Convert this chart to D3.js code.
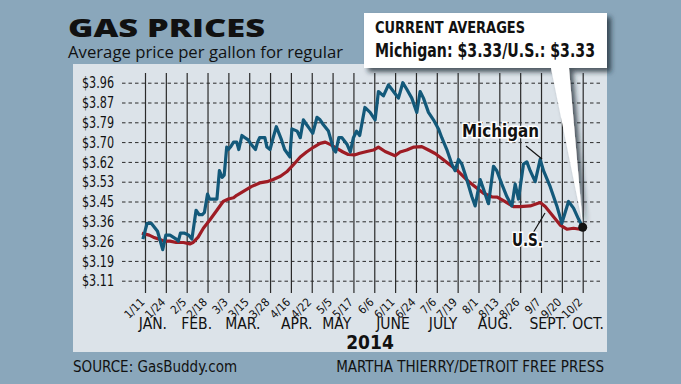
<!DOCTYPE html>
<html>
<head>
<meta charset="utf-8">
<script src="https://d3js.org/d3.v7.min.js"></script>
<style>
body { margin: 0; background: #8aa7bb; }
svg text { font-family: "DejaVu Sans Condensed", "Open Sans", sans-serif; fill: #111; }
</style>
</head>
<body>
<script>
var W = 681, H = 384;

// y gridline labels (evenly spaced in the original)
var yTicks = [3.11, 3.19, 3.26, 3.36, 3.45, 3.53, 3.62, 3.70, 3.79, 3.87, 3.96];
// x ticks, evenly spaced
var dateLabels = ["1/11","1/24","2/5","2/18","3/3","3/15","3/28","4/16","4/22","5/5","5/17",
                  "6/6","6/11","6/24","7/6","7/19","8/1","8/13","8/26","9/7","9/20","10/2"];
var months = ["JAN.","FEB.","MAR.","APR.","MAY","JUNE","JULY","AUG.","SEPT.","OCT."];
var monthPos = [0.38, 2.48, 4.69, 7.28, 9.2, 11.9, 14.3, 16.8, 19.34, 21.26];

// [position in tick units, price]
var michigan = [[-0.1,3.27],[0.1,3.35],[0.3,3.35],[0.6,3.31],[0.85,3.23],[1.0,3.29],[1.2,3.29],[1.5,3.27],
  [1.6,3.26],[1.7,3.30],[1.9,3.30],[2.1,3.29],[2.25,3.27],[2.45,3.41],[2.6,3.39],[2.75,3.39],[2.85,3.40],
  [3.0,3.48],[3.1,3.46],[3.3,3.46],[3.45,3.46],[3.57,3.58],[3.7,3.55],[3.8,3.56],[3.92,3.68],[4.0,3.67],
  [4.1,3.68],[4.25,3.70],[4.4,3.70],[4.5,3.67],[4.65,3.73],[4.8,3.72],[4.95,3.71],[5.1,3.69],[5.3,3.67],
  [5.4,3.70],[5.5,3.72],[5.75,3.72],[5.85,3.68],[6.0,3.67],[6.15,3.72],[6.3,3.77],[6.55,3.71],[6.7,3.67],
  [6.95,3.64],[7.05,3.76],[7.3,3.75],[7.45,3.72],[7.6,3.80],[7.75,3.78],[7.9,3.76],[8.05,3.74],[8.25,3.81],
  [8.4,3.80],[8.55,3.78],[8.8,3.75],[9.05,3.67],[9.15,3.66],[9.3,3.72],[9.45,3.72],[9.7,3.69],[9.85,3.66],
  [10.0,3.72],[10.15,3.75],[10.3,3.73],[10.55,3.85],[10.8,3.83],[11.04,3.80],[11.2,3.92],[11.44,3.90],
  [11.68,3.95],[11.92,3.92],[12.16,3.89],[12.37,3.96],[12.56,3.93],[12.8,3.89],[13.04,3.83],[13.2,3.92],
  [13.36,3.89],[13.6,3.83],[13.84,3.80],[14.08,3.76],[14.24,3.72],[14.48,3.67],[14.72,3.61],[14.88,3.58],
  [15.04,3.63],[15.2,3.61],[15.44,3.54],[15.68,3.47],[15.84,3.43],[16.08,3.54],[16.24,3.50],[16.48,3.44],
  [16.72,3.60],[16.88,3.58],[17.12,3.52],[17.36,3.47],[17.6,3.43],[17.76,3.52],[17.92,3.46],[18.16,3.61],
  [18.32,3.62],[18.48,3.58],[18.72,3.53],[18.96,3.63],[19.12,3.58],[19.44,3.51],[19.76,3.43],[20.0,3.35],
  [20.32,3.45],[20.56,3.42],[20.8,3.37],[21.0,3.33]];

var us = [[-0.15,3.30],[0.2,3.29],[0.4,3.28],[0.65,3.27],[0.9,3.26],[1.2,3.26],[1.5,3.255],[1.85,3.255],
  [2.15,3.25],[2.3,3.255],[2.55,3.28],[2.8,3.325],[3.1,3.365],[3.45,3.41],[3.75,3.45],[4.0,3.46],[4.25,3.465],
  [4.4,3.475],[4.7,3.49],[5.1,3.51],[5.5,3.525],[5.85,3.53],[6.15,3.54],[6.5,3.555],[6.8,3.575],[7.1,3.605],
  [7.45,3.64],[7.75,3.66],[8.1,3.68],[8.4,3.695],[8.65,3.70],[8.9,3.69],[9.2,3.675],[9.5,3.66],[9.75,3.65],
  [10.05,3.648],[10.3,3.655],[10.64,3.662],[10.96,3.668],[11.2,3.68],[11.52,3.662],[12.0,3.645],[12.24,3.66],
  [12.56,3.668],[12.9,3.68],[13.28,3.682],[13.6,3.668],[13.92,3.654],[14.24,3.634],[14.64,3.606],[15.04,3.576],
  [15.44,3.538],[15.84,3.51],[16.24,3.483],[16.64,3.469],[16.9,3.468],[17.28,3.449],[17.68,3.427],[18.0,3.427],
  [18.48,3.43],[18.96,3.445],[19.2,3.427],[19.6,3.381],[19.92,3.341],[20.24,3.32],[20.56,3.325],[20.88,3.32],
  [21.0,3.333]];

var svg = d3.select("body").append("svg")
    .attr("width", W)
    .attr("height", H);

var defs = svg.append("defs");
defs.append("filter").attr("id", "shadow")
    .attr("x", "-10%").attr("y", "-20%").attr("width", "130%").attr("height", "160%")
  .append("feDropShadow")
    .attr("dx", 4).attr("dy", 4).attr("stdDeviation", 2.5)
    .attr("flood-color", "#1f2a33").attr("flood-opacity", 0.75);

svg.append("rect").attr("width", W).attr("height", H).attr("fill", "#8aa7bb");

// light panel
svg.append("rect")
    .attr("x", 73).attr("y", 64)
    .attr("width", 534).attr("height", 288)
    .attr("fill", "#dce3e9");

var x = d3.scaleLinear().domain([0, 21]).range([145, 582.7]);
var y = d3.scaleLinear()
    .domain(yTicks)
    .range(yTicks.map(function(d, i) { return 280.7 - i * 19.8; }));

// squeeze a text to a given width (the original uses a condensed face)
function squeeze(sel, w) {
  sel.attr("textLength", w).attr("lengthAdjust", "spacingAndGlyphs");
}

// horizontal dashed gridlines + labels
var yAxis = svg.append("g")
    .attr("transform", "translate(122,0)")
    .call(d3.axisLeft(y).tickValues(yTicks).tickSize(-478).tickPadding(8)
      .tickFormat(function(d) { return "$" + d.toFixed(2); }));
yAxis.select(".domain").remove();
yAxis.selectAll("line")
    .attr("stroke", "#2a2a2a")
    .attr("stroke-width", 1)
    .attr("stroke-dasharray", "3.5,3");
yAxis.selectAll("text")
    .attr("font-size", 16)
    .style("font-family", null)
    .call(squeeze, 32);

// vertical lines + date labels
var xAxis = svg.append("g")
    .attr("transform", "translate(0,293)")
    .call(d3.axisBottom(x).tickValues(d3.range(dateLabels.length)).tickSize(-220)
      .tickFormat(function(d) { return dateLabels[d]; }));
xAxis.select(".domain").remove();
xAxis.selectAll("line")
    .attr("stroke", "#2a2a2a")
    .attr("stroke-width", 1.2);
xAxis.selectAll("text")
    .attr("font-size", 11.5)
    .attr("text-anchor", "end")
    .attr("y", 0)
    .attr("dy", "0.35em")
    .attr("transform", "translate(-3,7) rotate(-45)");

// month names
svg.selectAll(".month")
    .data(months)
    .enter().append("text")
      .attr("class", "month")
      .attr("x", function(d, i) { return x(monthPos[i]); })
      .attr("y", 329)
      .attr("text-anchor", "middle")
      .attr("font-size", 15.5)
      .text(function(d) { return d; });

svg.append("text")
    .attr("x", 370).attr("y", 349)
    .attr("text-anchor", "middle")
    .attr("font-size", 19)
    .attr("font-weight", "bold")
    .text("2014");

// lines
var line = d3.line()
    .x(function(d) { return x(d[0]); })
    .y(function(d) { return y(d[1]); });

svg.append("path")
    .datum(us)
    .attr("fill", "none")
    .attr("stroke", "#9e1c24")
    .attr("stroke-width", 3.2)
    .attr("stroke-linejoin", "round")
    .attr("d", line);

svg.append("path")
    .datum(michigan)
    .attr("fill", "none")
    .attr("stroke", "#13597a")
    .attr("stroke-width", 3.2)
    .attr("stroke-linejoin", "round")
    .attr("d", line);

// callout box with pointer
var callout = svg.append("g").attr("filter", "url(#shadow)");
callout.append("path")
    .attr("d", "M364,13H607V68H569L" + x(21) + "," + (y(3.33) - 3) + "L551,68H364Z")
    .attr("fill", "#fff");

svg.append("circle")
    .attr("cx", x(21)).attr("cy", y(3.33))
    .attr("r", 4.5)
    .attr("fill", "#111");

svg.append("text")
    .attr("x", 375).attr("y", 33)
    .attr("font-size", 16)
    .attr("font-weight", "bold")
    .text("CURRENT AVERAGES")
    .call(squeeze, 150);
svg.append("text")
    .attr("x", 375).attr("y", 57)
    .attr("font-size", 20)
    .attr("font-weight", "bold")
    .text("Michigan: $3.33/U.S.: $3.33")
    .call(squeeze, 220);

// series labels
svg.append("line")
    .attr("x1", 526).attr("y1", 146).attr("x2", 542).attr("y2", 159)
    .attr("stroke", "#111").attr("stroke-width", 1.2);
svg.append("line")
    .attr("x1", 533).attr("y1", 233).attr("x2", 545).attr("y2", 213)
    .attr("stroke", "#111").attr("stroke-width", 1.2);

svg.append("text")
    .attr("x", 462).attr("y", 137)
    .attr("font-size", 18)
    .attr("font-weight", "bold")
    .attr("stroke", "#fff").attr("stroke-width", 3)
    .attr("paint-order", "stroke")
    .text("Michigan")
    .call(squeeze, 77);
svg.append("text")
    .attr("x", 512).attr("y", 246)
    .attr("font-size", 18)
    .attr("font-weight", "bold")
    .attr("stroke", "#fff").attr("stroke-width", 3)
    .attr("paint-order", "stroke")
    .text("U.S.")
    .call(squeeze, 31);

// titles
svg.append("text")
    .attr("x", 68).attr("y", 37)
    .attr("font-size", 25)
    .attr("font-weight", "900")
    .style("font-family", "'Open Sans', sans-serif")
    .text("GAS PRICES")
    .call(squeeze, 197);
svg.append("text")
    .attr("x", 68).attr("y", 58)
    .attr("font-size", 15.5)
    .style("font-family", "'Open Sans', sans-serif")
    .text("Average price per gallon for regular")
    .call(squeeze, 275);

// footer
svg.append("text")
    .attr("x", 73).attr("y", 372)
    .attr("font-size", 15)
    .text("SOURCE: GasBuddy.com");
svg.append("text")
    .attr("x", 604).attr("y", 372)
    .attr("text-anchor", "end")
    .attr("font-size", 15)
    .text("MARTHA THIERRY/DETROIT FREE PRESS");
</script>
</body>
</html>
